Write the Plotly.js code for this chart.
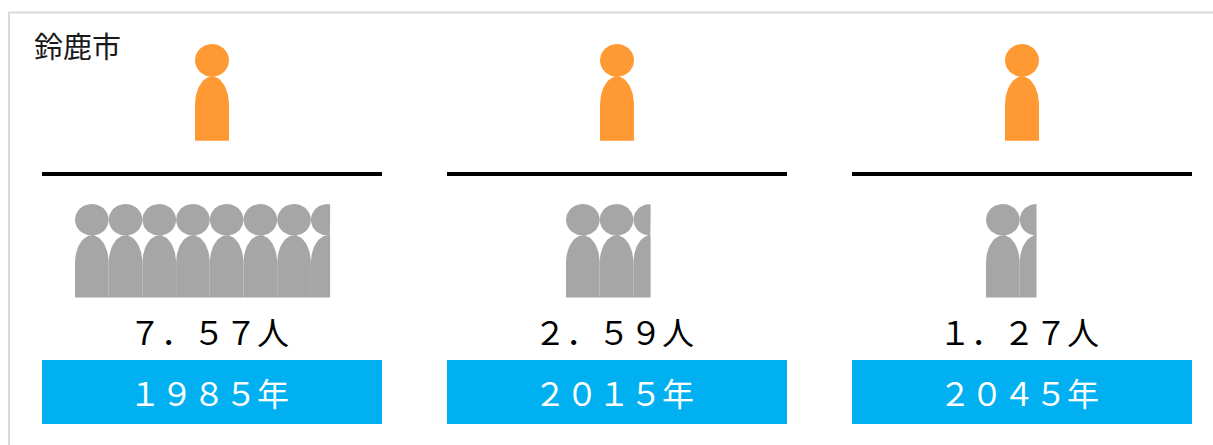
<!DOCTYPE html>
<html><head><meta charset="utf-8">
<script src="https://cdn.plot.ly/plotly-3.0.1.min.js"></script>
<style>html,body{margin:0;padding:0;background:#fff}#chart{width:1213px;height:445px}</style>
</head><body><div id="chart"></div>
<script>
// Data
const cityName = "鈴鹿市";
const yearLabels = ["1985年", "2015年", "2045年"];
const valueLabels = ["7.57人", "2.59人", "1.27人"];
const seniorCount = [1, 1, 1];
const drawnWorkers = [7.57, 2.51, 1.5];

// Layout constants
const W = 1213, H = 445;
const panelLeft = [42, 447, 852];
const panelWidth = 340;
const seniorLeft = [195, 600, 1005];
const workerLeft = [75, 566, 986];
const toFull = s => s.replace(/[0-9.]/g, c => String.fromCharCode(c.charCodeAt(0) + 0xFEE0));

function person(left, top, w, h, frac) {
  const xs = [], ys = [];
  const clip = left + w * frac;
  const cx = left + w / 2;
  const headR = h * 0.169, bodyTop = h * 0.335, shoulder = h * 0.63;
  const cy = top + headR;
  for (let i = 0; i <= 48; i++) {
    const a = 2 * Math.PI * i / 48;
    xs.push(Math.min(clip, cx + w / 2 * Math.cos(a)));
    ys.push(cy + headR * Math.sin(a));
  }
  xs.push(null); ys.push(null);
  for (let i = 0; i <= 36; i++) {
    const a = Math.PI * i / 36;
    xs.push(Math.min(clip, cx - w / 2 * Math.cos(a)));
    ys.push(top + shoulder - (shoulder - bodyTop) * Math.sin(a));
  }
  xs.push(Math.min(clip, left + w), left, left);
  ys.push(top + h, top + h, top + shoulder);
  return {x: xs, y: ys, type: "scatter", mode: "lines", fill: "toself", hoverinfo: "skip",
          line: {width: 0}, showlegend: false};
}

const traces = [];
function group(count, left, top, w, h, color) {
  for (let i = 0; i < Math.ceil(count); i++) {
    const t = person(left + i * w, top, w, h, Math.min(1, count - i));
    t.fillcolor = color; traces.push(t);
  }
}
panelLeft.forEach((_, k) => {
  group(seniorCount[k], seniorLeft[k], 44, 34, 96.8, "#ff9933");
  group(drawnWorkers[k], workerLeft[k], 204, 33.7, 93.4, "#a6a6a6");
});

const shapes = [
  {type: "line", x0: 9, x1: W, y0: 12.5, y1: 12.5, line: {color: "#d9d9d9", width: 2}},
  {type: "line", x0: 9, x1: 9, y0: 12, y1: H, line: {color: "#d9d9d9", width: 2}}
];
const annotations = [{x: 31.5, y: 45, text: cityName, xanchor: "left", yanchor: "middle", showarrow: false,
  font: {family: "Noto Sans CJK JP", size: 29, color: "#1a1a1a"}}];
panelLeft.forEach((l, k) => {
  shapes.push({type: "line", x0: l, x1: l + panelWidth, y0: 174, y1: 174, line: {color: "#000", width: 4}});
  shapes.push({type: "rect", x0: l, x1: l + panelWidth, y0: 360, y1: 424, fillcolor: "#00b0f0", line: {width: 0}});
  annotations.push({x: l + panelWidth / 2 - 3, y: 331, text: toFull(valueLabels[k]), showarrow: false,
    font: {family: "Noto Sans CJK JP", size: 32, color: "#000"}});
  annotations.push({x: l + panelWidth / 2 - 3, y: 392, text: toFull(yearLabels[k]), showarrow: false,
    font: {family: "Noto Sans CJK JP", size: 32, color: "#fff"}});
});

Plotly.newPlot("chart", traces, {
  width: W, height: H, margin: {l: 0, r: 0, t: 0, b: 0},
  paper_bgcolor: "#fff", plot_bgcolor: "#fff", showlegend: false,
  xaxis: {range: [0, W], visible: false, fixedrange: true},
  yaxis: {range: [H, 0], visible: false, fixedrange: true},
  shapes, annotations
}, {displayModeBar: false, staticPlot: true});
</script></body></html>
